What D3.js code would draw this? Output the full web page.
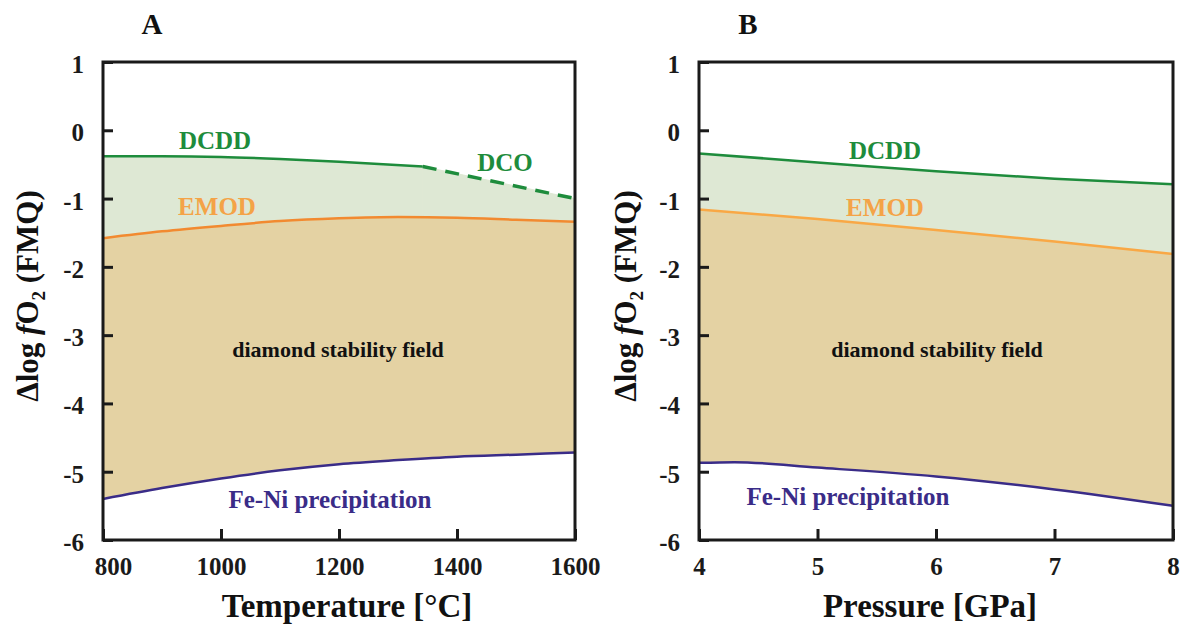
<!DOCTYPE html>
<html>
<head>
<meta charset="utf-8">
<script src="https://cdn.jsdelivr.net/npm/d3@7"></script>
<style>
  body { margin: 0; background: #fff; }
  svg text { font-family: "Liberation Serif", "Times New Roman", serif; font-weight: bold; }
</style>
</head>
<body>
<div id="chart"></div>
<script>
// Panel A - temperature
const tempA = [800, 900, 1000, 1100, 1200, 1300, 1400, 1500, 1600];
const emodA = [-1.58, -1.48, -1.40, -1.33, -1.29, -1.27, -1.28, -1.31, -1.34];
const feniA = [-5.40, -5.24, -5.10, -4.98, -4.89, -4.83, -4.78, -4.75, -4.72];
const dcddTempA = [800, 900, 1000, 1100, 1200, 1342];
const dcddA = [-0.38, -0.38, -0.39, -0.42, -0.46, -0.53];
const dcoTempA = [1342, 1600];
const dcoA = [-0.53, -1.00];
const tempTicks = [800, 1000, 1200, 1400, 1600];

// Panel B - pressure
const presB = [4, 5, 6, 7, 8];
const dcddB = [-0.34, -0.47, -0.60, -0.71, -0.79];
const emodB = [-1.16, -1.30, -1.46, -1.63, -1.81];
const feniPresB = [4, 4.3, 5, 6, 7, 8];
const feniB = [-4.87, -4.86, -4.94, -5.07, -5.26, -5.50];
const presTicks = [4, 5, 6, 7, 8];

const yTicks = [1, 0, -1, -2, -3, -4, -5, -6];

const width = 1189, height = 629;
const svg = d3.select("#chart").append("svg")
  .attr("width", width)
  .attr("height", height);

const green = "#1e8c3c";
const greenFill = "#dee8d4";
const tanFill = "#e4d2a3";
const purple = "#3a2c88";

function zip(xs, ys) {
  return xs.map((x, i) => ({ x: x, y: ys[i] }));
}

// plain hyphen minus like the original figure
const fmt = d => String(d);

function drawPanel(opts) {
  const x = d3.scaleLinear().domain(opts.xDomain).range([opts.left, opts.right]);
  const y = d3.scaleLinear().domain([-6, 1]).range([540, 62]);
  const g = svg.append("g");

  const areaSmooth = d3.area().x(d => x(d.x)).y0(y(-6)).y1(d => y(d.y)).curve(d3.curveMonotoneX);
  const areaLin = d3.area().x(d => x(d.x)).y0(y(-6)).y1(d => y(d.y));
  const lineSmooth = d3.line().x(d => x(d.x)).y(d => y(d.y)).curve(d3.curveMonotoneX);
  const lineLin = d3.line().x(d => x(d.x)).y(d => y(d.y));

  // layered fills
  g.append("path").attr("d", areaSmooth(opts.dcdd)).attr("fill", greenFill)
    .attr("stroke", greenFill).attr("stroke-width", 1);
  if (opts.dco) g.append("path").attr("d", areaLin(opts.dco)).attr("fill", greenFill)
    .attr("stroke", greenFill).attr("stroke-width", 1);
  g.append("path").attr("d", areaSmooth(opts.emod)).attr("fill", tanFill);
  g.append("path").attr("d", areaSmooth(opts.feni)).attr("fill", "#fff");

  // boundary lines
  g.append("path").attr("d", lineSmooth(opts.dcdd)).attr("fill", "none")
    .attr("stroke", green).attr("stroke-width", 2.5);
  if (opts.dco) {
    g.append("path").attr("d", lineLin(opts.dco)).attr("fill", "none")
      .attr("stroke", green).attr("stroke-width", 3.5).attr("stroke-dasharray", "14,9");
  }
  g.append("path").attr("d", lineSmooth(opts.emod)).attr("fill", "none")
    .attr("stroke", opts.emodColor).attr("stroke-width", 2.5);
  g.append("path").attr("d", lineSmooth(opts.feni)).attr("fill", "none")
    .attr("stroke", purple).attr("stroke-width", 2.5);

  // frame
  g.append("rect")
    .attr("x", opts.left).attr("y", y(1))
    .attr("width", opts.right - opts.left).attr("height", y(-6) - y(1))
    .attr("fill", "none").attr("stroke", "#1a1a1a").attr("stroke-width", 3);

  // axes
  const yAxis = g.append("g")
    .attr("transform", `translate(${opts.left},0)`)
    .call(d3.axisLeft(y).tickValues(yTicks).tickSize(-10).tickPadding(19).tickFormat(fmt));
  yAxis.select(".domain").remove();
  yAxis.selectAll("line").attr("stroke", "#1a1a1a").attr("stroke-width", 3);
  yAxis.selectAll("text").attr("font-size", 25).attr("fill", "#1a1a1a")
    .attr("font-family", "Liberation Serif, serif").attr("dy", "0.42em");

  const xAxis = g.append("g")
    .attr("transform", `translate(0,${y(-6)})`)
    .call(d3.axisBottom(x).tickValues(opts.xTicks).tickSize(-11).tickPadding(17).tickFormat(fmt));
  xAxis.select(".domain").remove();
  xAxis.selectAll("line").attr("stroke", "#1a1a1a").attr("stroke-width", 3);
  xAxis.selectAll("text").attr("font-size", 25).attr("fill", "#1a1a1a")
    .attr("font-family", "Liberation Serif, serif");
  if (opts.firstShift) {
    xAxis.selectAll("text").filter((d, i) => i === 0).attr("dx", opts.firstShift);
  }

  // panel letter
  g.append("text").attr("x", opts.letterX).attr("y", 34)
    .attr("text-anchor", "middle").attr("font-size", 29).attr("fill", "#111")
    .text(opts.letter);

  // axis titles
  g.append("text").attr("x", opts.xTitleX).attr("y", 617)
    .attr("text-anchor", "middle").attr("font-size", 33).attr("fill", "#111")
    .text(opts.xTitle);

  const yt = g.append("text")
    .attr("transform", `translate(${opts.yTitleX},296) rotate(-90)`)
    .attr("text-anchor", "middle").attr("font-size", 31).attr("fill", "#111");
  yt.append("tspan").text("\u0394log ");
  yt.append("tspan").attr("font-style", "italic").text("f");
  yt.append("tspan").text("O");
  yt.append("tspan").attr("font-size", 19).attr("dy", 7).text("2");
  yt.append("tspan").attr("dy", -7).text(" (FMQ)");

  // curve labels
  opts.labels.forEach(l => {
    g.append("text").attr("x", l.x).attr("y", l.y)
      .attr("text-anchor", "middle").attr("font-size", l.size).attr("fill", l.color)
      .text(l.text);
  });
}

drawPanel({
  left: 103, right: 575,
  xDomain: [800, 1600], xTicks: tempTicks, firstShift: 10,
  dcdd: zip(dcddTempA, dcddA),
  dco: zip(dcoTempA, dcoA),
  emod: zip(tempA, emodA),
  feni: zip(tempA, feniA),
  emodColor: "#f28a30",
  letter: "A", letterX: 152,
  xTitle: "Temperature [\u00B0C]", xTitleX: 347,
  yTitleX: 38,
  labels: [
    { text: "DCDD", x: 215, y: 149, size: 25, color: green },
    { text: "EMOD", x: 217, y: 215, size: 25, color: "#f4a347" },
    { text: "DCO", x: 505, y: 171, size: 25, color: green },
    { text: "diamond stability field", x: 338, y: 357, size: 22, color: "#111" },
    { text: "Fe-Ni precipitation", x: 330, y: 508, size: 25, color: purple }
  ]
});

drawPanel({
  left: 699, right: 1173,
  xDomain: [4, 8], xTicks: presTicks,
  dcdd: zip(presB, dcddB),
  dco: null,
  emod: zip(presB, emodB),
  feni: zip(feniPresB, feniB),
  emodColor: "#f9a845",
  letter: "B", letterX: 748,
  xTitle: "Pressure [GPa]", xTitleX: 930,
  yTitleX: 636,
  labels: [
    { text: "DCDD", x: 885, y: 159, size: 25, color: green },
    { text: "EMOD", x: 885, y: 216, size: 25, color: "#f4a347" },
    { text: "diamond stability field", x: 937, y: 357, size: 22, color: "#111" },
    { text: "Fe-Ni precipitation", x: 848, y: 505, size: 25, color: purple }
  ]
});
</script>
</body>
</html>
